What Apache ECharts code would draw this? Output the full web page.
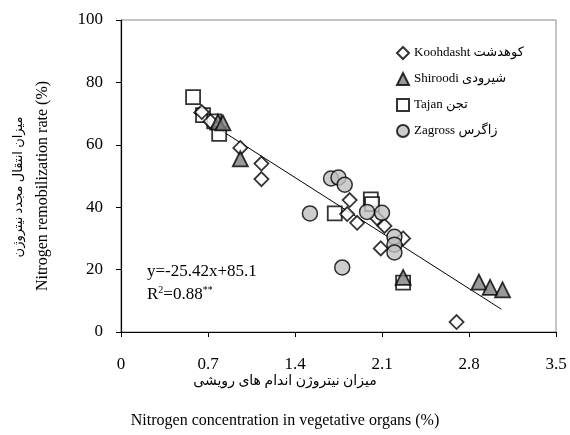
<!DOCTYPE html>
<html>
<head>
<meta charset="utf-8">
<script src="https://cdn.jsdelivr.net/npm/echarts@6/dist/echarts.min.js"></script>
<style>
  html, body { margin: 0; padding: 0; background: #fff; }
  #chart { width: 570px; height: 435px; }
</style>
</head>
<body>
<div id="chart"></div>
<script>
// داده ها  (x = N concentration %, y = remobilization %)
var koohdasht = [[0.65, 70.5], [0.72, 67.5], [0.96, 59], [1.13, 54], [1.13, 49], [1.84, 42.3],
  [1.82, 37.8], [1.9, 35], [2.06, 36.5], [2.12, 34], [2.27, 30], [2.09, 26.8], [2.7, 3.2]];
var shiroodi = [[0.78, 67.3], [0.82, 67], [0.96, 55.5], [2.27, 17.5], [2.88, 16], [2.97, 14.3], [3.07, 13.5]];
var tajan = [[0.58, 75.3], [0.66, 69.5], [0.75, 67.5], [0.79, 63.5], [1.72, 38], [2.01, 42.5],
  [2.02, 41], [2.27, 15.8]];
var zagross = [[1.52, 38], [1.69, 49.2], [1.75, 49.5], [1.8, 47.2], [1.78, 20.7], [1.98, 38.5],
  [2.1, 38.2], [2.2, 30.5], [2.2, 28], [2.2, 25.5]];
var seriesNames = ["Koohdasht کوهدشت", "Shiroodi شیرودی", "Tajan تجن", "Zagross زاگرس"];
// trend line y = slope*x + intercept
var slope = -25.42;
var intercept = 85.1;
var fitRange = [0.58, 3.06];
var xTicks = [0, 0.7, 1.4, 2.1, 2.8, 3.5];
var yTicks = [0, 20, 40, 60, 80, 100];

var serif = "'Liberation Serif', 'Times New Roman', 'DejaVu Serif', 'DejaVu Sans', serif";
var fitData = fitRange.map(function (x) { return [x, slope * x + intercept]; });

var chartDom = echarts.init(document.getElementById("chart"));
var option = {
  animation: false,
  textStyle: { fontFamily: serif, color: "#000" },
  grid: {
    left: 121, right: 14, top: 20, bottom: 103,
    show: true, borderColor: "#8a8a8a", borderWidth: 1
  },
  legend: {
    orient: "vertical",
    left: 391, top: 41,
    itemWidth: 12, itemHeight: 12, itemGap: 12,
    data: seriesNames,
    textStyle: { fontFamily: serif, fontSize: 13, color: "#000" }
  },
  xAxis: {
    type: "value",
    min: xTicks[0], max: xTicks[xTicks.length - 1], interval: 0.7,
    splitLine: { show: false },
    axisLine: { lineStyle: { color: "#000", width: 1.2 } },
    axisTick: { show: true, inside: false, length: 5, lineStyle: { color: "#000" } },
    axisLabel: {
      fontFamily: serif, fontSize: 17, color: "#000", margin: 24,
      formatter: function (v) { return String(parseFloat(v.toFixed(1))); }
    }
  },
  yAxis: {
    type: "value",
    min: yTicks[0], max: yTicks[yTicks.length - 1], interval: 20,
    splitLine: { show: false },
    axisLine: { lineStyle: { color: "#000", width: 1.2 } },
    axisTick: { show: true, inside: false, length: 5, lineStyle: { color: "#000" } },
    axisLabel: { fontFamily: serif, fontSize: 17, color: "#000", margin: 18 }
  },
  series: [
    {
      name: "fit", type: "line", data: fitData, symbol: "none", silent: true,
      lineStyle: { color: "#000", width: 1 }, z: 1
    },
    {
      name: seriesNames[0], type: "scatter", data: koohdasht,
      symbol: "diamond", symbolSize: 14,
      itemStyle: { color: "#fff", borderColor: "#000", borderWidth: 1.8 }, z: 3
    },
    {
      name: seriesNames[1], type: "scatter", data: shiroodi,
      symbol: "triangle", symbolSize: 15,
      itemStyle: { color: "#808080", borderColor: "#000", borderWidth: 1.8 }, z: 3
    },
    {
      name: seriesNames[2], type: "scatter", data: tajan,
      symbol: "rect", symbolSize: 14,
      itemStyle: { color: "#fff", borderColor: "#000", borderWidth: 1.8 }, z: 2
    },
    {
      name: seriesNames[3], type: "scatter", data: zagross,
      symbol: "circle", symbolSize: 15,
      itemStyle: { color: "#c0c0c0", borderColor: "#000", borderWidth: 1.5 }, z: 4
    }
  ],
  graphic: [
    {
      type: "text", left: 147, top: 263,
      style: { text: "y=-25.42x+85.1", font: "17px " + serif, fill: "#000" }
    },
    {
      type: "text", left: 147, top: 285,
      style: {
        text: "{a|R}{s|2}{a|=0.88}{s|**}",
        rich: {
          a: { fontFamily: serif, fontSize: 17, color: "#000" },
          s: { fontFamily: serif, fontSize: 10, color: "#000", padding: [0, 0, 9, 0] }
        }
      }
    },
    {
      type: "text", left: "center", top: 374, x: 30,
      style: { text: "میزان نیتروژن اندام های رویشی", font: "14px " + serif, fill: "#000" }
    },
    {
      type: "text", left: "center", top: 413, x: 35,
      style: { text: "Nitrogen concentration in vegetative organs (%)", font: "16px " + serif, fill: "#000" }
    },
    {
      type: "text", x: 43, y: 186, rotation: Math.PI / 2,
      style: {
        text: "Nitrogen remobilization rate (%)", font: "16px " + serif, fill: "#000",
        align: "center", verticalAlign: "middle"
      }
    },
    {
      type: "text", x: 19, y: 187, rotation: Math.PI / 2,
      style: {
        text: "میزان انتقال مجدد نیتروژن", font: "13px " + serif, fill: "#000",
        align: "center", verticalAlign: "middle"
      }
    }
  ]
};
chartDom.setOption(option);
</script>
</body>
</html>
